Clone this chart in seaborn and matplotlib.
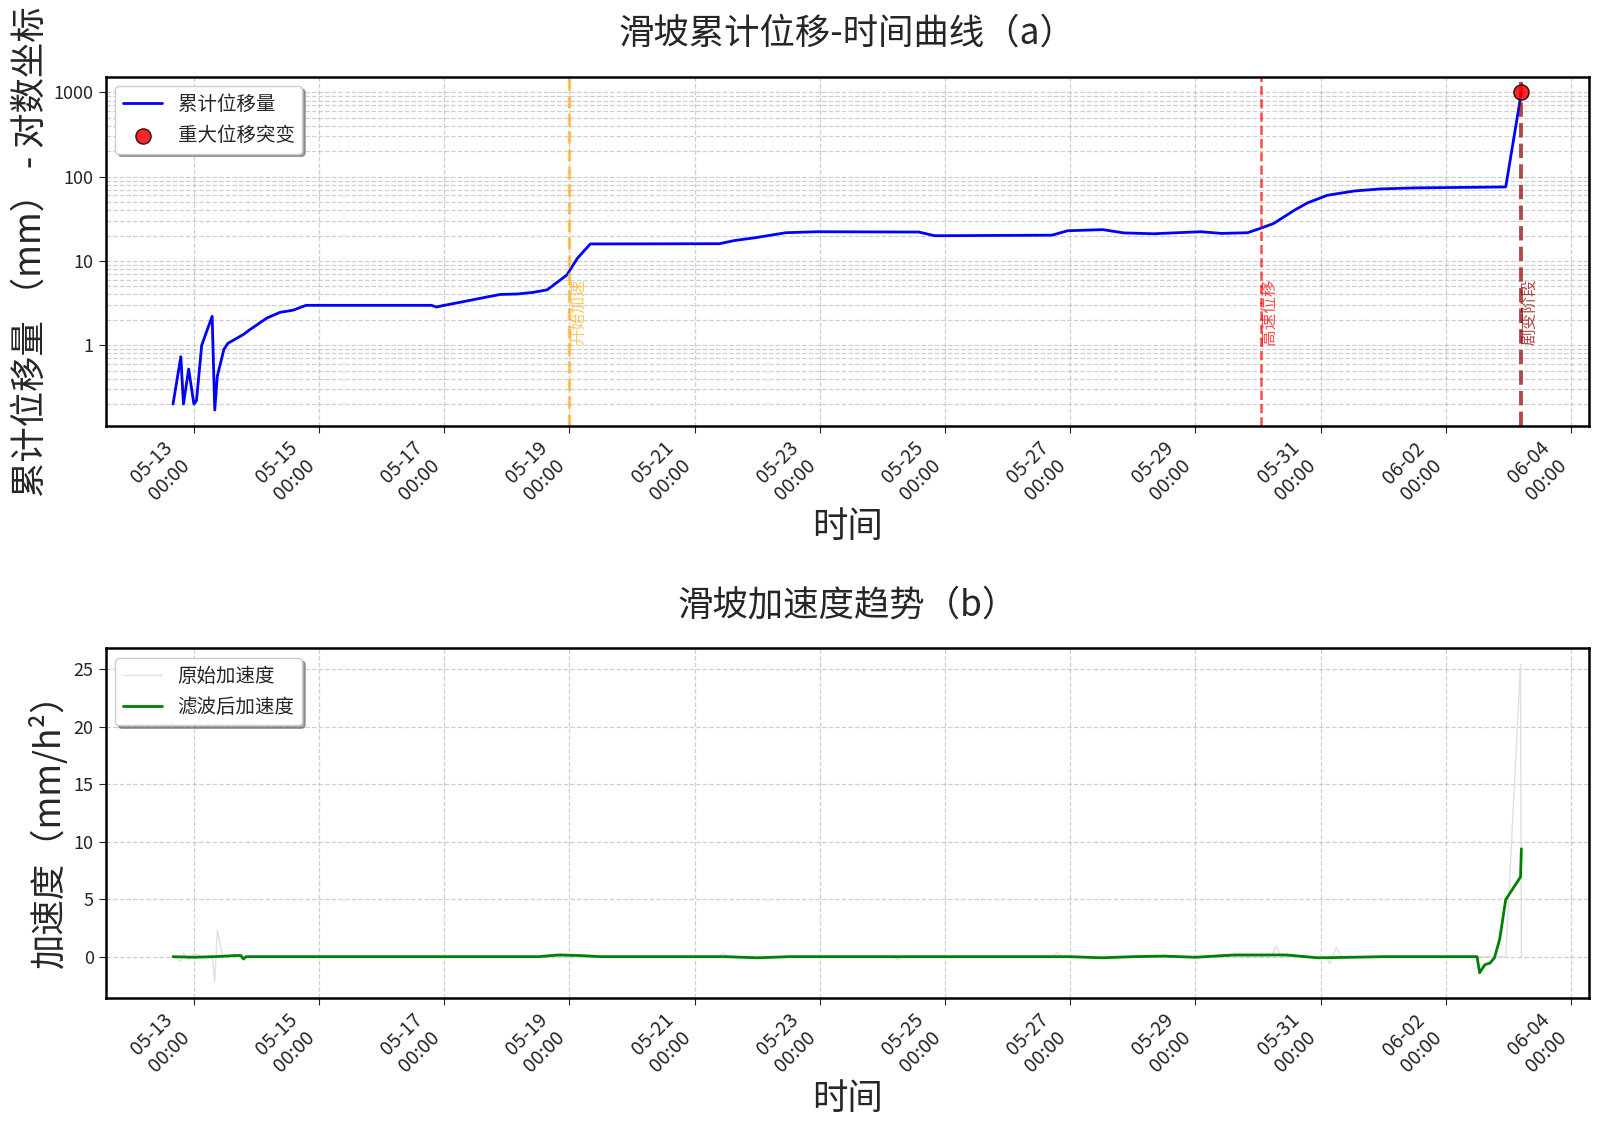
import pandas as pd
import matplotlib
matplotlib.use("Agg")
import matplotlib.pyplot as plt
import matplotlib.dates as mdates
from matplotlib.ticker import FixedLocator, FuncFormatter, NullFormatter
import seaborn as sns

# cumulative displacement (mm)
disp_time = [
    "2024-05-12 16:00", "2024-05-12 19:00", "2024-05-12 20:00", "2024-05-12 22:00",
    "2024-05-13 00:00", "2024-05-13 01:00", "2024-05-13 03:00", "2024-05-13 07:00",
    "2024-05-13 08:00", "2024-05-13 09:00", "2024-05-13 11:30", "2024-05-13 13:00",
    "2024-05-13 19:00", "2024-05-13 21:30", "2024-05-14 04:00", "2024-05-14 09:00",
    "2024-05-14 14:00", "2024-05-14 19:00", "2024-05-16 19:00", "2024-05-16 21:00",
    "2024-05-17 00:00", "2024-05-17 08:30", "2024-05-17 15:00", "2024-05-17 21:30",
    "2024-05-18 04:00", "2024-05-18 10:00", "2024-05-18 15:30", "2024-05-18 23:00",
    "2024-05-19 03:00", "2024-05-19 08:00", "2024-05-21 09:30", "2024-05-21 15:30",
    "2024-05-21 23:00", "2024-05-22 11:00", "2024-05-22 23:00", "2024-05-24 14:00",
    "2024-05-24 20:00", "2024-05-26 17:00", "2024-05-26 23:00", "2024-05-27 12:30",
    "2024-05-27 20:30", "2024-05-28 08:00", "2024-05-28 20:00", "2024-05-29 02:00",
    "2024-05-29 10:00", "2024-05-29 20:00", "2024-05-30 01:00", "2024-05-30 06:00",
    "2024-05-30 14:00", "2024-05-30 19:00", "2024-05-31 02:30", "2024-05-31 13:00",
    "2024-05-31 23:00", "2024-06-01 12:00", "2024-06-02 23:00", "2024-06-03 05:00",
]
disp_mm = [
    0.20, 0.73, 0.20, 0.52,
    0.20, 0.22, 1.00, 2.20,
    0.17, 0.43, 0.89, 1.05,
    1.34, 1.53, 2.10, 2.45,
    2.60, 2.97, 2.97, 2.84,
    2.97, 3.34, 3.66, 4.00,
    4.05, 4.23, 4.54, 6.80,
    10.7, 15.9, 16.0, 17.5,
    18.8, 21.6, 22.2, 22.0,
    19.9, 20.2, 22.8, 23.5,
    21.5, 21.0, 21.8, 22.2,
    21.2, 21.6, 24.4, 27.8,
    40.0, 48.8, 60.0, 67.6,
    71.5, 73.5, 75.5, 1000.0,
]

# key moments
event_time = ["2024-05-19 00:00", "2024-05-30 01:00", "2024-06-03 05:00"]
event_label = ["开始加速", "高速位移", "剧变阶段"]
jump_time = ["2024-06-03 05:00"]
jump_mm = [1000.0]

# raw acceleration (mm/h^2)
raw_time = [
    "2024-05-12 16:00", "2024-05-12 19:00", "2024-05-12 20:00", "2024-05-12 22:00",
    "2024-05-13 00:00", "2024-05-13 03:00", "2024-05-13 07:00", "2024-05-13 08:00",
    "2024-05-13 09:00", "2024-05-13 11:00", "2024-05-21 09:00", "2024-05-21 11:00",
    "2024-05-21 13:00", "2024-05-24 04:00", "2024-05-24 06:00", "2024-05-24 08:00",
    "2024-05-26 17:00", "2024-05-26 19:00", "2024-05-26 21:00", "2024-05-30 05:00",
    "2024-05-30 07:00", "2024-05-30 09:00", "2024-05-31 02:00", "2024-05-31 03:30",
    "2024-05-31 06:00", "2024-05-31 08:00", "2024-06-02 23:00", "2024-06-03 04:40",
    "2024-06-03 05:00",
]
raw_acc = [
    0.0, -0.4, 0.3, -0.3,
    0.3, 0.0, 0.1, -2.2,
    2.3, 0.0, 0.0, 0.3,
    0.0, 0.0, -0.25, 0.0,
    0.0, 0.35, 0.0, 0.0,
    0.9, 0.0, 0.0, -0.6,
    0.8, 0.0, 0.0, 25.4,
    0.0,
]

# filtered acceleration (mm/h^2)
filt_time = [
    "2024-05-12 16:00", "2024-05-13 00:00", "2024-05-13 08:00", "2024-05-13 16:00",
    "2024-05-13 18:00", "2024-05-13 19:00", "2024-05-13 20:00", "2024-05-18 12:00",
    "2024-05-18 20:00", "2024-05-19 04:00", "2024-05-19 12:00", "2024-05-21 12:00",
    "2024-05-22 00:00", "2024-05-22 12:00", "2024-05-27 00:00", "2024-05-27 12:00",
    "2024-05-28 00:00", "2024-05-28 12:00", "2024-05-29 00:00", "2024-05-29 15:00",
    "2024-05-30 11:00", "2024-05-30 23:00", "2024-05-31 12:00", "2024-06-01 00:00",
    "2024-06-02 12:00", "2024-06-02 13:00", "2024-06-02 15:00", "2024-06-02 17:00",
    "2024-06-02 18:40", "2024-06-02 20:40", "2024-06-02 23:00", "2024-06-03 04:40",
    "2024-06-03 05:00",
]
filt_acc = [
    0.0, -0.05, 0.0, 0.1,
    0.1, -0.2, 0.0, 0.0,
    0.15, 0.1, 0.0, 0.0,
    -0.1, 0.0, 0.0, -0.1,
    0.0, 0.05, -0.05, 0.15,
    0.15, -0.1, -0.05, 0.0,
    0.0, -1.4, -0.7, -0.55,
    -0.1, 1.5, 4.96, 6.93,
    9.37,
]

disp_df = pd.DataFrame({"time": pd.to_datetime(disp_time), "disp": disp_mm})
jump_df = pd.DataFrame({"time": pd.to_datetime(jump_time), "disp": jump_mm})
raw_df = pd.DataFrame({"time": pd.to_datetime(raw_time), "acc": raw_acc})
filt_df = pd.DataFrame({"time": pd.to_datetime(filt_time), "acc": filt_acc})

sns.set_style("ticks")
plt.rcParams["font.family"] = ["Noto Sans CJK SC", "DejaVu Sans"]
plt.rcParams["axes.unicode_minus"] = False

fig, (ax1, ax2) = plt.subplots(2, 1, figsize=(16, 11.25), dpi=100)
fig.subplots_adjust(left=0.066, right=0.993, top=0.932, bottom=0.113, hspace=0.637)

# ---- panel (a): cumulative displacement
sns.lineplot(data=disp_df, x="time", y="disp", ax=ax1, color="blue", lw=2,
             estimator=None, sort=False, label="累计位移量")
sns.scatterplot(data=jump_df, x="time", y="disp", ax=ax1, color="red", s=120,
                edgecolor="black", linewidth=1, alpha=0.85, zorder=5, label="重大位移突变")
ax1.set_yscale("log")

ev = pd.to_datetime(event_time)
styles = [("orange", 2.4, 0.6), ("red", 1.8, 0.7), ("darkred", 2.8, 0.7)]
for t, lab, (c, lw, a) in zip(ev, event_label, styles):
    ax1.axvline(t, color=c, ls="--", lw=lw, alpha=a)
    ax1.text(t, 1, lab, rotation=90, color=c, alpha=a, fontsize=12,
             ha="left", va="bottom")

ax1.set_yticks([1, 10, 100, 1000])
ax1.yaxis.set_major_formatter(FuncFormatter(lambda v, p: f"{v:g}"))
ax1.yaxis.set_minor_formatter(NullFormatter())
ax1.tick_params(axis="y", which="minor", length=0)
ax1.set_title("滑坡累计位移-时间曲线（a）", fontsize=25.5, pad=24)
ax1.set_ylabel("累计位移量 （mm） - 对数坐标", fontsize=25.5)
ax1.legend(loc="upper left", fancybox=True, shadow=True, fontsize=14, framealpha=1)

# ---- panel (b): acceleration
sns.lineplot(data=raw_df, x="time", y="acc", ax=ax2, color="lightgray", lw=1,
             alpha=0.7, estimator=None, sort=False, label="原始加速度")
sns.lineplot(data=filt_df, x="time", y="acc", ax=ax2, color="green", lw=2,
             estimator=None, sort=False, label="滤波后加速度")
ax2.set_title("滑坡加速度趋势（b）", fontsize=25.5, pad=24)
ax2.set_ylabel("加速度（mm/h²）", fontsize=25.5)
ax2.legend(loc="upper left", fancybox=True, shadow=True, fontsize=14, framealpha=1)

xticks = pd.date_range("2024-05-13", "2024-06-04", freq="2D")
for ax in (ax1, ax2):
    ax.xaxis.set_major_locator(FixedLocator(mdates.date2num(xticks)))
    ax.xaxis.set_major_formatter(mdates.DateFormatter("%m-%d\n%H:%M"))
    ax.set_xlabel("时间", fontsize=25.5, labelpad=3)
    ax.grid(True, which="both", ls="--", color="#b0b0b0", alpha=0.6, lw=0.9)
    ax.tick_params(axis="x", which="major", labelsize=14, length=5)
    ax.tick_params(axis="y", which="major", labelsize=13, length=5)
    plt.setp(ax.get_xticklabels(), rotation=45, ha="right")
    for sp in ax.spines.values():
        sp.set_linewidth(1.8)
        sp.set_color("black")

fig.savefig("out.png", dpi=100)
